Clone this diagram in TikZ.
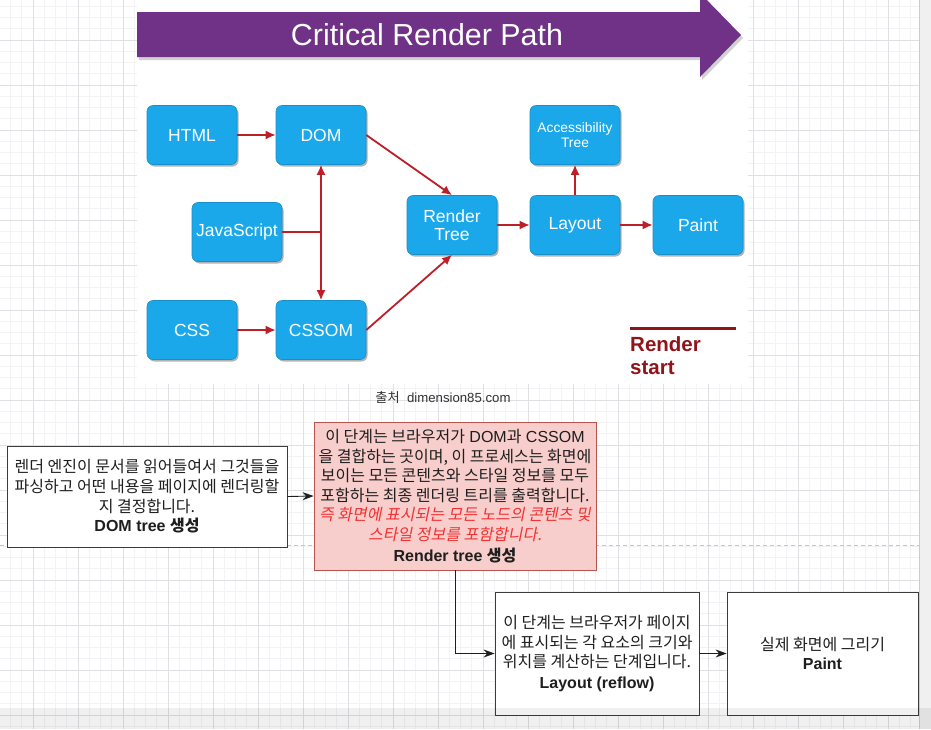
\documentclass[tikz,border=0pt]{standalone}
\usepackage{fontspec}
\setmainfont{Liberation Sans}
\newfontfamily\kr{Noto Sans CJK KR}
\newfontfamily\krslant[FakeSlant=0.2]{Noto Sans CJK KR}
\usetikzlibrary{arrows.meta, positioning, calc, shadows}

\definecolor{crppurple}{RGB}{112,50,135}
\definecolor{crpblue}{RGB}{27,168,235}
\definecolor{crpred}{RGB}{190,30,40}
\definecolor{startred}{RGB}{145,20,26}
\definecolor{notegray}{RGB}{60,60,60}
\definecolor{notetext}{RGB}{30,30,30}
\definecolor{notepink}{RGB}{248,206,204}
\definecolor{pinkedge}{RGB}{184,84,80}
\definecolor{krred}{RGB}{240,50,50}
\definecolor{srcgray}{RGB}{50,50,50}
\definecolor{gridminor}{RGB}{243,243,245}
\definecolor{gridmajor}{RGB}{224,224,228}

\tikzset{
  stage/.style={rounded corners=6pt, fill=crpblue, draw=crpblue!85!black, line width=0.6pt,
    minimum width=90pt, minimum height=59pt, inner sep=1pt, text=white, align=center,
    font=\fontsize{17.5}{18.5}\selectfont,
    drop shadow={shadow xshift=1.5pt, shadow yshift=-2pt, opacity=0.3, fill=black}},
  flow/.style={draw=crpred, line width=1.8pt, -{Latex[length=10pt,width=9pt]}},
  note/.style={draw=notegray, fill=white, line width=0.8pt, align=center, inner sep=2pt,
    text=notetext, font=\fontsize{16}{19.6}\selectfont},
  link/.style={draw=notetext, line width=0.9pt, -{Stealth[length=11pt,width=8pt]}},
}

\begin{document}
\begin{tikzpicture}[x=1pt, y=-1pt]
  \useasboundingbox (0,0) rectangle (931,729);

  % draw.io grid
  \foreach \i in {0,...,83} \draw[gridminor, line width=0.6pt] ({-12+11.25*\i},0) -- ++(0,729);
  \foreach \j in {0,...,65} \draw[gridminor, line width=0.6pt] (0,{-5+11.25*\j}) -- ++(931,0);
  \foreach \i in {0,...,21} \draw[gridmajor, line width=0.6pt] ({-12+45*\i},0) -- ++(0,729);
  \foreach \j in {0,...,16} \draw[gridmajor, line width=0.6pt] (0,{-5+45*\j}) -- ++(931,0);

  % slide picture
  \fill[white] (137,0) rectangle (748,384);

  % Title arrow
  \fill[black, opacity=0.18] (139,15) -- (702,15) -- (702,-4) -- (743,38) -- (702,80) -- (702,60) -- (139,60) -- cycle;
  \fill[crppurple] (137,12) -- (700,12) -- (700,-7) -- (741,35) -- (700,77) -- (700,57) -- (137,57) -- cycle;
  \node[text=white, font=\fontsize{30.4}{32}\selectfont] (title) at (427,35) {Critical Render Path};

  % Pipeline boxes
  \node[stage] (html) at (192,135) {HTML};
  \node[stage] (dom) at (321,135) {DOM};
  \node[stage] (js) at (237,232) {JavaScript};
  \node[stage] (css) at (192,330) {CSS};
  \node[stage] (cssom) at (321,330) {CSSOM};
  \node[stage] (render) at (452,225) {Render\\Tree};
  \node[stage] (layout) at (575,225) {Layout};
  \node[stage] (paint) at (698,225) {Paint};
  \node[stage, font=\fontsize{13.8}{15}\selectfont] (access) at (575,135) {Accessibility\\Tree};

  \draw[flow] (html) -- (dom);
  \draw[flow] (css) -- (cssom);
  \draw[flow, {Latex[length=10pt,width=9pt]}-{Latex[length=10pt,width=9pt]}] (dom) -- (cssom);
  \draw[draw=crpred, line width=1.8pt] (js.east) -- (js.east -| dom.south);
  \draw[flow] (dom.east) -- (render.north);
  \draw[flow] (cssom.east) -- (render.south);
  \draw[flow] (render) -- (layout);
  \draw[flow] (layout) -- (access);
  \draw[flow] (layout) -- (paint);

  % Render start
  \node[anchor=north west, inner sep=0pt, align=left, text=startred,
    font=\bfseries\fontsize{20.5}{23.5}\selectfont] (rstart) at (630,336) {Render\\start};
  \draw[startred, line width=3pt] ([yshift=8pt]rstart.north west) -- ++(106,0);

  \node[text=srcgray, font=\fontsize{13.2}{14}\selectfont] (source) at (443,398) {{\kr 출처}\ \ dimension85.com};

  % page break
  \draw[gray!45, line width=0.7pt, dash pattern=on 4pt off 3pt] (0,545) -- (919,545);

  % Notes
  \node[note, minimum width=280pt, minimum height=101pt] (parse) at (147,496.5)
    {{\kr 렌더 엔진이 문서를 읽어들여서 그것들을}\\
     {\kr 파싱하고 어떤 내용을 페이지에 렌더링할}\\
     {\kr 지 결정합니다.}\\
     \textbf{DOM tree {\kr\bfseries 생성}}};
  \node[note, fill=notepink, draw=pinkedge, minimum width=282pt, minimum height=148pt] (rtree) at (455,496)
    {{\kr 이 단계는 브라우저가} DOM{\kr 과} CSSOM\\
     {\kr 을 결합하는 곳이며, 이 프로세스는 화면에}\\
     {\kr 보이는 모든 콘텐츠와 스타일 정보를 모두}\\
     {\kr 포함하는 최종 렌더링 트리를 출력합니다.}\\
     {\krslant\color{krred} 즉 화면에 표시되는 모든 노드의 콘텐츠 및}\\
     {\krslant\color{krred} 스타일 정보를 포함합니다.}\\[1pt]
     \textbf{Render tree {\kr\bfseries 생성}}};
  \node[note, minimum width=204pt, minimum height=123pt] (reflow) at (597,653.5)
    {{\kr 이 단계는 브라우저가 페이지}\\
     {\kr 에 표시되는 각 요소의 크기와}\\
     {\kr 위치를 계산하는 단계입니다.}\\[1pt]
     \textbf{Layout (reflow)}};
  \node[note, minimum width=191pt, minimum height=123pt] (paintnote) at (822.5,653.5)
    {{\kr 실제 화면에 그리기}\\
     \textbf{Paint}};

  \draw[link] (parse.east) -- (rtree.west);
  \draw[link] (rtree.south) |- (reflow.west);
  \draw[link] (reflow.east) -- (paintnote.west);

  % window edges
  \fill[gray!12] (919,0) rectangle (931,729);
  \draw[gray!40, line width=0.6pt] (919,0) -- (919,729);
  \fill[black, opacity=0.06] (0,708) rectangle (931,729);
\end{tikzpicture}
\end{document}
